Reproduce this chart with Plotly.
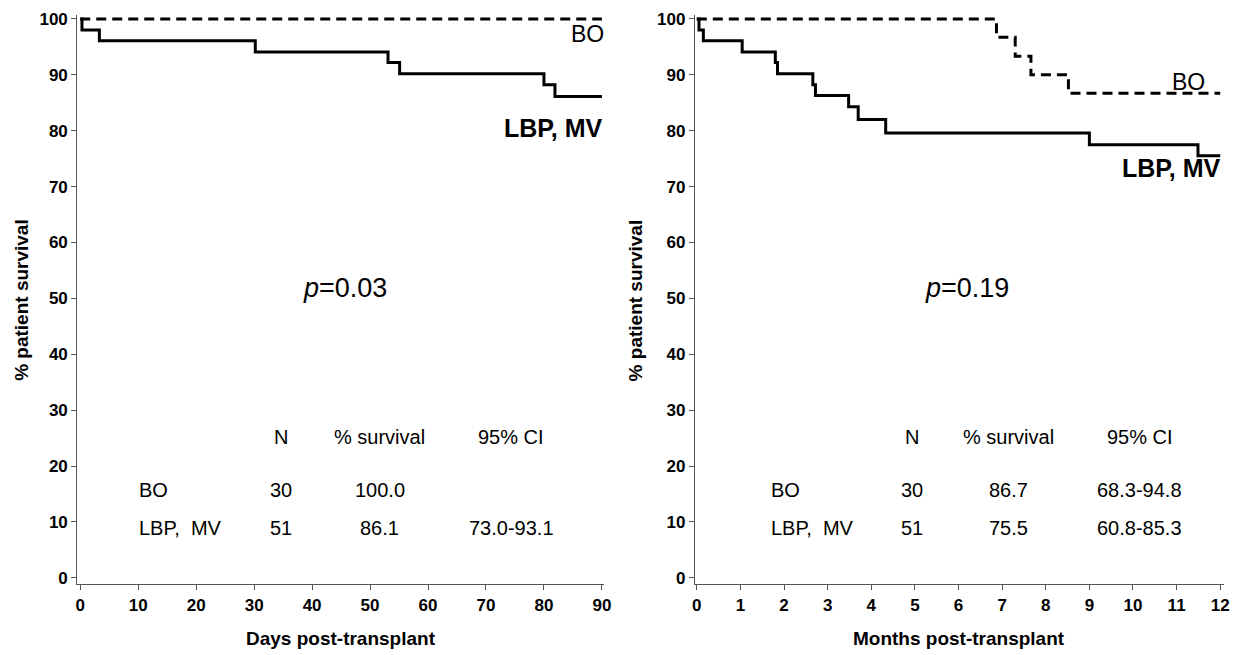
import plotly.graph_objects as go

# Left panel (days)
days_lbp_t = [0, 0.3, 3.3, 30.2, 53.1, 55.1, 80.0, 81.9, 90]
days_lbp_s = [100, 98.0, 96.1, 94.1, 92.2, 90.2, 88.2, 86.1, 86.1]
days_bo_t = [0, 90]
days_bo_s = [100, 100]

# Right panel (months)
mon_lbp_t = [0, 0.05, 0.15, 1.04, 1.80, 1.85, 2.66, 2.72, 3.48, 3.70, 4.33, 9.0, 11.49, 12]
mon_lbp_s = [100, 98.0, 96.1, 94.1, 92.2, 90.2, 88.2, 86.3, 84.3, 82.0, 79.6, 77.5, 75.5, 75.5]
mon_bo_t = [0, 6.87, 7.3, 7.66, 8.52, 12]
mon_bo_s = [100, 96.7, 93.3, 90.0, 86.7, 86.7]

y_ticks = list(range(0, 101, 10))
x_ticks_days = list(range(0, 91, 10))
x_ticks_months = list(range(0, 13))

table_header = ["N", "% survival", "95% CI"]
left_rows = [["BO", "30", "100.0", ""], ["LBP,  MV", "51", "86.1", "73.0-93.1"]]
right_rows = [["BO", "30", "86.7", "68.3-94.8"], ["LBP,  MV", "51", "75.5", "60.8-85.3"]]

W, H = 1249, 655
TOP, BOT = 15, 584
fig = go.Figure()

lw = 3
fig.add_trace(go.Scatter(x=days_bo_t, y=days_bo_s, mode="lines", line=dict(color="black", width=lw, dash="10px,6px", shape="hv"), xaxis="x", yaxis="y", showlegend=False))
fig.add_trace(go.Scatter(x=days_lbp_t, y=days_lbp_s, mode="lines", line=dict(color="black", width=lw, shape="hv"), xaxis="x", yaxis="y", showlegend=False))
fig.add_trace(go.Scatter(x=mon_bo_t, y=mon_bo_s, mode="lines", line=dict(color="black", width=lw, dash="10px,6px", shape="hv"), xaxis="x2", yaxis="y2", showlegend=False))
fig.add_trace(go.Scatter(x=mon_lbp_t, y=mon_lbp_s, mode="lines", line=dict(color="black", width=lw, shape="hv"), xaxis="x2", yaxis="y2", showlegend=False))

tickfont = dict(family="Liberation Sans Narrow, Arial Narrow, Liberation Sans, Arial", size=17, color="black", weight="bold")
axis_common = dict(showgrid=False, zeroline=False, showline=True, linecolor="#555", linewidth=1.2,
                   ticks="outside", ticklen=5, tickcolor="#555", tickwidth=1, tickfont=tickfont)

fig.update_layout(
    width=W, height=H, plot_bgcolor="white", paper_bgcolor="white",
    margin=dict(l=0, r=0, t=TOP, b=H - BOT),
    xaxis=dict(domain=[75 / W, 606 / W], range=[-0.5, 90.3], tickvals=x_ticks_days, anchor="y", **axis_common),
    yaxis=dict(domain=[0, 1], range=[-1.1, 100.7], tickvals=y_ticks, anchor="x", **axis_common),
    xaxis2=dict(domain=[698 / W, 1232 / W], range=[-0.045, 12.09], tickvals=x_ticks_months, anchor="y2", **axis_common),
    yaxis2=dict(domain=[0, 1], range=[-1.1, 100.7], tickvals=y_ticks, anchor="x2", **axis_common),
)

reg = dict(family="Liberation Sans, Arial", size=20, color="black")
boldlab = dict(family="Liberation Sans, Arial", size=25, color="black", weight="bold")
bofont = dict(family="Liberation Sans, Arial", size=23, color="black")
pfont = dict(family="Liberation Sans, Arial", size=27, color="black")
ann = []

def add(x, y, text, xr, yr, font, xanchor="center", xshift=0):
    ann.append(dict(x=x, y=y, xref=xr, yref=yr, text=text, showarrow=False, font=font,
                    xanchor=xanchor, yanchor="middle", xshift=xshift))

# Left panel labels
add(90, 97.3, "BO", "x", "y", bofont, "right", 4)
add(90, 80.4, "<b>LBP, MV</b>", "x", "y", boldlab, "right", 2)
add(45.7, 51.8, "<i>p</i>=0.03", "x", "y", pfont)
for cx, h in zip([34.6, 51.7, 74.4], table_header):
    add(cx, 25.2, h, "x", "y", reg)
for yv, row in zip([15.7, 8.9], left_rows):
    add(9.75, yv, row[0], "x", "y", reg, "left")
    for cx, v in zip([34.6, 51.7, 74.4], row[1:]):
        if v:
            add(cx, yv, v, "x", "y", reg)

# Right panel labels
add(11.28, 88.8, "BO", "x2", "y2", bofont)
add(12, 73.3, "<b>LBP, MV</b>", "x2", "y2", boldlab, "right", 2)
add(6.2, 51.8, "<i>p</i>=0.19", "x2", "y2", pfont)
for cx, h in zip([4.94, 7.15, 10.15], table_header):
    add(cx, 25.2, h, "x2", "y2", reg)
for yv, row in zip([15.7, 8.9], right_rows):
    add(1.66, yv, row[0], "x2", "y2", reg, "left")
    for cx, v in zip([4.94, 7.15, 10.15], row[1:]):
        if v:
            add(cx, yv, v, "x2", "y2", reg)

# Axis titles (paper coords relative to plot area)
def py(pix):
    return (BOT - pix) / (BOT - TOP)

title_font = dict(family="Liberation Sans Narrow, Arial Narrow, Liberation Sans, Arial", size=19, color="black", weight="bold")
for xp in (18, 638):
    ann.append(dict(x=xp / W, y=py(300), xref="paper", yref="paper", text="% patient survival", textangle=-90,
                    showarrow=False, font=title_font, xanchor="center", yanchor="middle"))
ann.append(dict(x=341 / W, y=py(638), xref="paper", yref="paper", text="Days post-transplant",
                showarrow=False, font=title_font, xanchor="center", yanchor="middle"))
ann.append(dict(x=964 / W, y=py(638), xref="paper", yref="paper", text="Months post-transplant",
                showarrow=False, font=title_font, xanchor="center", yanchor="middle"))

fig.update_layout(annotations=ann)
fig.write_html("out.html")
